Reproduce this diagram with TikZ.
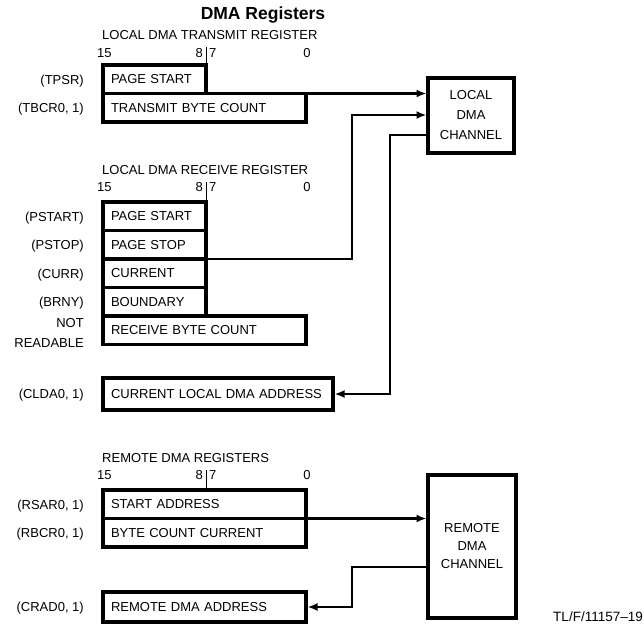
\documentclass[tikz,border=0pt]{standalone}
\usepackage{fontspec}
\setmainfont{Liberation Sans}
\usetikzlibrary{positioning,arrows.meta}

\tikzset{
  reg/.style={draw, line width=3.2pt, outer sep=0pt, anchor=north west, inner xsep=8pt, inner ysep=0pt, minimum height=28.5pt, align=left},
  half/.style={reg, text width=87pt},
  full/.style={reg, text width=187pt},
  tag/.style={inner sep=0pt, anchor=east, align=right, text height=9.5pt, text depth=0pt},
  bits/.style={inner sep=0pt, text height=9.5pt, text depth=0pt},
  chan/.style={draw, line width=3.2pt, outer sep=0pt, align=center, inner sep=0pt},
  conn/.style={line width=2.2pt},
  tip/.style={conn, -{Latex[length=10pt,width=8pt]}, shorten >=1.5pt}
}

\begin{document}
\begin{tikzpicture}[x=1pt, y=-1pt, font=\fontsize{13}{20}\selectfont]
  \useasboundingbox (0,0) rectangle (644,634);

  \node[font=\bfseries\fontsize{17.5}{20}\selectfont, inner sep=0pt] (title) at (263,15) {DMA Registers};

  % local transmit
  \node[bits, anchor=west] (txname) at (102,35) {LOCAL DMA TRANSMIT REGISTER};
  \node[bits, anchor=west] (tx15) at (97,53) {15};
  \node[bits, anchor=east] (tx8) at (203,53) {8};
  \node[bits, anchor=west] (tx7) at (209,53) {7};
  \node[bits] (tx0) at (307,53) {0};

  \node[half] (tpsr) at (103,65) {PAGE START};
  \node[full] (tbcr) at (tpsr.south west) {TRANSMIT BYTE COUNT};
  \draw[line width=1pt] (tpsr.north east) -- ++(0,-18);

  \node[tag, left=19pt of tpsr] (tpsrl) {(TPSR)};
  \node[tag, left=19pt of tbcr] (tbcrl) {(TBCR0, 1)};

  % local receive
  \node[bits, anchor=west] (rxname) at (102,170) {LOCAL DMA RECEIVE REGISTER};
  \node[bits, anchor=west] (rx15) at (97,187) {15};
  \node[bits, anchor=east] (rx8) at (203,187) {8};
  \node[bits, anchor=west] (rx7) at (209,187) {7};
  \node[bits] (rx0) at (307,187) {0};

  \node[half] (pstart) at (103,202) {PAGE START};
  \node[half] (pstop) at (pstart.south west) {PAGE STOP};
  \node[half] (curr) at (pstop.south west) {CURRENT};
  \node[half] (brny) at (curr.south west) {BOUNDARY};
  \node[full] (rbc) at (brny.south west) {RECEIVE BYTE COUNT};
  \draw[line width=1pt] (pstart.north east) -- ++(0,-20);

  \node[tag, left=19pt of pstart] (pstartl) {(PSTART)};
  \node[tag, left=19pt of pstop] (pstopl) {(PSTOP)};
  \node[tag, left=19pt of curr] (currl) {(CURR)};
  \node[tag, left=19pt of brny] (brnyl) {(BRNY)};
  \node[tag] (rbcl) at ([xshift=-19pt,yshift=-12.5pt]rbc.west) {NOT\\READABLE};

  \node[reg, text width=214pt, minimum height=32pt] (clda) at (103,378) {CURRENT LOCAL DMA ADDRESS};
  \node[tag, left=19pt of clda] (cldal) {(CLDA0, 1)};

  \node[chan, minimum width=86pt, minimum height=75pt] (lch) at (471,115.5) {LOCAL\\DMA\\CHANNEL};

  \coordinate (stopbend) at (352,115);
  \coordinate (currbend) at (390,135);
  \draw[tip] (tbcr.north east) -- (tbcr.north east -| lch.west);
  \draw[tip] (pstop.south east) -| (stopbend) -- (stopbend -| lch.west);
  \draw[tip] (currbend -| lch.west) -- (currbend) |- (clda.east);

  % remote
  \node[bits, anchor=west] (rmname) at (102,458) {REMOTE DMA REGISTERS};
  \node[bits, anchor=west] (rm15) at (97,475) {15};
  \node[bits, anchor=east] (rm8) at (203,475) {8};
  \node[bits, anchor=west] (rm7) at (209,475) {7};
  \node[bits] (rm0) at (307,475) {0};

  \node[full] (rsar) at (103,490) {START ADDRESS};
  \node[full] (rbcr) at (rsar.south west) {BYTE COUNT CURRENT};
  \draw[line width=1pt] ([xshift=103pt]rsar.north west) -- ++(0,-20);

  \node[tag, left=19pt of rsar] (rsarl) {(RSAR0, 1)};
  \node[tag, left=19pt of rbcr] (rbcrl) {(RBCR0, 1)};

  \node[full, minimum height=30pt] (crad) at (103,592) {REMOTE DMA ADDRESS};
  \node[tag, left=19pt of crad] (cradl) {(CRAD0, 1)};

  \node[chan, minimum width=88pt, minimum height=143pt, font=\fontsize{13}{18}\selectfont] (rch) at (472,546.5) {REMOTE\\DMA\\CHANNEL};

  \coordinate (rembend) at (352,567);
  \draw[tip] (rsar.south east) -- (rsar.south east -| rch.west);
  \draw[tip] (rembend -| rch.west) -- (rembend) |- (crad.east);

  \node[anchor=east, inner sep=0pt, font=\fontsize{13.5}{16}\selectfont] (figno) at (643,617) {TL/F/11157–19};
\end{tikzpicture}
\end{document}
